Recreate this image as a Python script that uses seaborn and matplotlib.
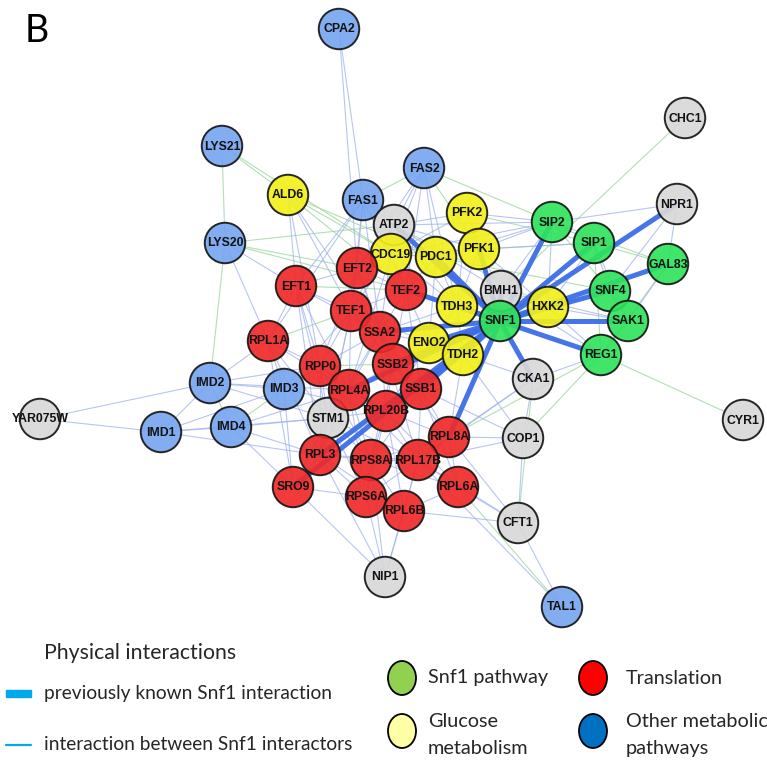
import matplotlib
matplotlib.use("Agg")
import matplotlib.pyplot as plt
from matplotlib.collections import LineCollection
from matplotlib.patches import Ellipse, Rectangle
import seaborn as sns
import pandas as pd

# ---- network data -------------------------------------------------------
node_names = [
    "CPA2", "LYS21", "LYS20", "ALD6", "FAS1", "FAS2", "CHC1", "NPR1",
    "ATP2", "CDC19", "PFK2", "PFK1", "PDC1", "SIP2", "SIP1", "GAL83",
    "EFT1", "EFT2", "TEF2", "TEF1", "SSA2", "BMH1", "TDH3", "HXK2",
    "SNF4", "SAK1", "SNF1", "REG1", "ENO2", "TDH2", "RPL1A", "RPP0",
    "STM1", "RPL4A", "SSB2", "SSB1", "RPL20B", "IMD2", "IMD3", "IMD4",
    "IMD1", "YAR075W", "CKA1", "CYR1", "COP1", "RPL8A", "RPL3", "RPS8A",
    "RPL17B", "SRO9", "RPL6A", "RPS6A", "RPL6B", "CFT1", "NIP1", "TAL1",
]
node_x = [
    339, 222, 225, 288, 363, 424, 685, 677,
    394, 391, 467, 479, 436, 552, 594, 668,
    296, 357, 406, 351, 380, 501, 457, 548,
    610, 628, 500, 601, 429, 463, 268, 320,
    328, 349, 393, 421, 386, 210, 284, 231,
    161, 40, 533, 743, 523, 449, 320, 371,
    418, 293, 458, 366, 404, 518, 385, 562,
]
node_y = [
    29, 146, 243, 195, 200, 168, 118, 204,
    225, 254, 213, 249, 257, 222, 243, 264,
    286, 268, 290, 311, 332, 291, 306, 307,
    291, 321, 321, 355, 343, 355, 341, 366,
    418, 390, 364, 389, 411, 383, 389, 427,
    432, 419, 379, 420, 438, 437, 455, 460,
    460, 487, 487, 497, 511, 523, 577, 607,
]
node_group = [
    "metabolic", "metabolic", "metabolic", "glucose", "metabolic", "metabolic", "other", "other",
    "other", "glucose", "glucose", "glucose", "glucose", "snf1", "snf1", "snf1",
    "translation", "translation", "translation", "translation", "translation", "other", "glucose", "glucose",
    "snf1", "snf1", "snf1", "snf1", "glucose", "glucose", "translation", "translation",
    "other", "translation", "translation", "translation", "translation", "metabolic", "metabolic", "metabolic",
    "metabolic", "other", "other", "other", "other", "translation", "translation", "translation",
    "translation", "translation", "translation", "translation", "translation", "other", "other", "metabolic",
]

# previously known Snf1 interactions (thick)
known_snf1 = [
    ("SNF1", "SIP2"), ("SNF1", "SIP1"), ("SNF1", "NPR1"), ("SNF1", "GAL83"),
    ("SNF1", "SNF4"), ("SNF1", "SAK1"), ("SNF1", "REG1"), ("SNF1", "HXK2"),
    ("SNF1", "BMH1"), ("SNF1", "CKA1"), ("SNF1", "RPL8A"), ("SNF1", "TDH2"),
    ("SNF1", "ENO2"), ("SNF1", "SSB1"), ("SNF1", "SSB2"), ("SNF1", "RPL3"),
    ("SNF1", "SRO9"), ("SNF1", "RPL4A"), ("SNF1", "SSA2"), ("SNF1", "TDH3"),
    ("SNF1", "PDC1"), ("SNF1", "PFK1"), ("SNF1", "ATP2"), ("SNF1", "TEF2"),
]

# interactions between Snf1 interactors (thin blue)
physical = [
    ("CPA2", "FAS1"), ("CPA2", "EFT2"),
    ("FAS1", "ATP2"), ("FAS1", "CDC19"), ("FAS1", "EFT2"), ("FAS1", "TEF1"), ("FAS1", "EFT1"),
    ("FAS1", "SSA2"), ("FAS1", "TEF2"), ("FAS1", "RPL1A"),
    ("FAS2", "ATP2"), ("FAS2", "CDC19"), ("FAS2", "PDC1"), ("FAS2", "TEF2"), ("FAS2", "TDH3"),
    ("FAS2", "EFT2"),
    ("ALD6", "EFT1"), ("ALD6", "TEF1"), ("ALD6", "SSA2"), ("ALD6", "RPP0"),
    ("LYS20", "RPL1A"), ("LYS20", "EFT1"),
    ("ATP2", "PFK2"), ("ATP2", "PFK1"), ("ATP2", "SIP2"), ("ATP2", "EFT2"), ("ATP2", "TEF1"),
    ("ATP2", "TDH3"), ("ATP2", "BMH1"),
    ("CDC19", "PDC1"), ("CDC19", "TEF2"), ("CDC19", "EFT2"), ("CDC19", "TEF1"), ("CDC19", "SSA2"),
    ("CDC19", "PFK2"), ("CDC19", "SIP2"), ("CDC19", "RPL4A"), ("CDC19", "TDH3"),
    ("PDC1", "PFK1"), ("PDC1", "TDH3"), ("PDC1", "TEF2"), ("PDC1", "ENO2"), ("PDC1", "SIP2"),
    ("PFK2", "PFK1"), ("PFK2", "SIP2"), ("PFK2", "TDH3"),
    ("PFK1", "BMH1"), ("PFK1", "HXK2"), ("PFK1", "SIP2"), ("PFK1", "SIP1"), ("PFK1", "TDH3"),
    ("NPR1", "SIP2"), ("NPR1", "GAL83"), ("NPR1", "SNF4"),
    ("SIP2", "SIP1"), ("SIP2", "HXK2"), ("SIP2", "BMH1"),
    ("SIP1", "SNF4"), ("SIP1", "SAK1"), ("SIP1", "HXK2"),
    ("GAL83", "SAK1"), ("SNF4", "SAK1"), ("SAK1", "REG1"), ("HXK2", "SAK1"), ("HXK2", "REG1"),
    ("HXK2", "SNF4"), ("BMH1", "HXK2"), ("BMH1", "TDH3"), ("BMH1", "REG1"), ("BMH1", "SAK1"),
    ("REG1", "CKA1"),
    ("CKA1", "COP1"), ("CKA1", "RPL8A"), ("CKA1", "TDH2"), ("CKA1", "RPL17B"),
    ("COP1", "RPL8A"), ("COP1", "RPL17B"), ("COP1", "CFT1"), ("COP1", "TDH2"), ("COP1", "SSB1"),
    ("CFT1", "RPL6A"), ("CFT1", "RPL6B"), ("CFT1", "RPL8A"), ("CFT1", "TAL1"), ("CFT1", "RPL17B"),
    ("TAL1", "RPL17B"),
    ("NIP1", "RPS6A"), ("NIP1", "RPL6B"), ("NIP1", "RPL3"), ("NIP1", "RPL17B"), ("NIP1", "RPS8A"),
    ("NIP1", "SRO9"),
    ("YAR075W", "IMD2"), ("YAR075W", "IMD1"),
    ("IMD1", "IMD2"), ("IMD1", "IMD4"), ("IMD1", "IMD3"), ("IMD1", "STM1"), ("IMD1", "RPL3"),
    ("IMD2", "IMD3"), ("IMD2", "RPL1A"), ("IMD2", "RPL4A"), ("IMD2", "RPP0"), ("IMD2", "STM1"),
    ("IMD4", "RPL3"), ("IMD4", "STM1"), ("IMD4", "SRO9"), ("IMD4", "RPL4A"),
    ("IMD3", "RPP0"), ("IMD3", "RPL1A"), ("IMD3", "SRO9"), ("IMD3", "RPL20B"), ("IMD3", "TEF1"),
    ("EFT1", "EFT2"), ("EFT1", "TEF1"), ("EFT1", "SSA2"), ("EFT1", "RPL1A"), ("EFT1", "RPP0"),
    ("EFT1", "RPL4A"), ("EFT1", "RPL3"), ("EFT1", "STM1"),
    ("EFT2", "TEF1"), ("EFT2", "TEF2"), ("EFT2", "SSA2"), ("EFT2", "RPP0"), ("EFT2", "SSB2"),
    ("TEF1", "TEF2"), ("TEF1", "SSA2"), ("TEF1", "RPP0"), ("TEF1", "RPL4A"), ("TEF1", "SSB2"),
    ("TEF1", "STM1"), ("TEF1", "RPL3"),
    ("TEF2", "SSA2"), ("TEF2", "SSB2"), ("TEF2", "SSB1"), ("TEF2", "TDH3"), ("TEF2", "ENO2"),
    ("SSA2", "SSB2"), ("SSA2", "SSB1"), ("SSA2", "RPP0"), ("SSA2", "RPL4A"), ("SSA2", "ENO2"),
    ("SSA2", "RPL20B"), ("SSA2", "STM1"), ("SSA2", "RPL17B"),
    ("SSB2", "SSB1"), ("SSB2", "RPL4A"), ("SSB2", "RPL20B"), ("SSB2", "ENO2"), ("SSB2", "RPL8A"),
    ("SSB2", "RPS8A"),
    ("SSB1", "RPL20B"), ("SSB1", "RPL8A"), ("SSB1", "RPL17B"), ("SSB1", "TDH2"), ("SSB1", "RPS8A"),
    ("SSB1", "RPL6A"),
    ("RPP0", "RPL4A"), ("RPP0", "RPL1A"), ("RPP0", "STM1"), ("RPP0", "RPL3"), ("RPP0", "RPL20B"),
    ("RPP0", "RPS8A"),
    ("RPL1A", "RPL4A"), ("RPL1A", "STM1"), ("RPL1A", "RPL3"), ("RPL1A", "SRO9"),
    ("RPL4A", "STM1"), ("RPL4A", "RPL20B"), ("RPL4A", "RPL3"), ("RPL4A", "RPS8A"),
    ("RPL4A", "RPL17B"), ("RPL4A", "RPS6A"),
    ("STM1", "RPL20B"), ("STM1", "RPL3"), ("STM1", "RPS8A"), ("STM1", "SRO9"), ("STM1", "RPS6A"),
    ("STM1", "RPL17B"),
    ("RPL20B", "RPS8A"), ("RPL20B", "RPL17B"), ("RPL20B", "RPL8A"), ("RPL20B", "RPL3"),
    ("RPL20B", "RPS6A"), ("RPL20B", "RPL6B"), ("RPL20B", "RPL6A"),
    ("RPL3", "RPS8A"), ("RPL3", "SRO9"), ("RPL3", "RPS6A"), ("RPL3", "RPL6B"), ("RPL3", "RPL17B"),
    ("RPS8A", "RPL17B"), ("RPS8A", "RPS6A"), ("RPS8A", "RPL6B"), ("RPS8A", "RPL6A"),
    ("RPS8A", "RPL8A"),
    ("RPL17B", "RPL8A"), ("RPL17B", "RPL6A"), ("RPL17B", "RPL6B"), ("RPL17B", "RPS6A"),
    ("RPL6B", "RPS6A"), ("RPL6B", "RPL6A"), ("RPL8A", "RPL6A"), ("SRO9", "RPS6A"),
    ("ENO2", "TDH2"), ("ENO2", "TDH3"), ("TDH3", "TDH2"), ("TDH2", "RPL8A"), ("ENO2", "RPL20B"),
    ("TDH3", "SSA2"),
]

# other (non-physical) associations (thin green)
genetic = [
    ("LYS21", "LYS20"), ("LYS21", "ALD6"), ("LYS21", "CDC19"),
    ("LYS20", "ATP2"), ("LYS20", "EFT2"), ("LYS20", "TEF2"), ("LYS20", "IMD2"),
    ("ALD6", "CDC19"), ("ALD6", "TEF2"), ("ALD6", "PDC1"),
    ("FAS1", "FAS2"), ("FAS2", "SIP2"), ("FAS2", "PFK1"),
    ("CHC1", "BMH1"), ("CYR1", "REG1"),
    ("SIP2", "GAL83"), ("SIP2", "SNF4"), ("SIP1", "GAL83"), ("SIP1", "REG1"), ("PFK2", "SIP1"),
    ("PDC1", "SNF4"), ("ATP2", "HXK2"), ("CDC19", "SIP1"),
    ("IMD2", "IMD4"), ("IMD3", "IMD4"),
    ("TAL1", "RPL6A"), ("REG1", "RPL8A"), ("REG1", "COP1"), ("CKA1", "CFT1"), ("GAL83", "REG1"),
    ("EFT1", "TEF2"), ("RPL1A", "TEF1"), ("RPP0", "SSB2"), ("TEF1", "ENO2"),
]

group_colors = {
    "snf1": "#2fe35c",
    "translation": "#f02a2a",
    "glucose": "#f2ef1c",
    "metabolic": "#78a6f0",
    "other": "#d8d8d8",
}

nodes = pd.DataFrame({"name": node_names, "x": node_x, "y": node_y, "group": node_group})
pos = {n: (x, y) for n, x, y in zip(node_names, node_x, node_y)}

sns.set_theme(style="white")
plt.rcParams["font.family"] = ["DejaVu Sans"]

fig = plt.figure(figsize=(7.67, 7.66), dpi=100)
ax = fig.add_axes([0, 0, 1, 1])
ax.set_xlim(0, 767)
ax.set_ylim(766, 0)
ax.axis("off")


def segments(pairs):
    return [[pos[a], pos[b]] for a, b in pairs]


ax.add_collection(LineCollection(segments(genetic), colors="#9ed89e", linewidths=0.8,
                                 alpha=0.8, zorder=1))
ax.add_collection(LineCollection(segments(physical), colors="#9fb2ef", linewidths=0.8,
                                 alpha=0.75, zorder=1))
ax.add_collection(LineCollection(segments(known_snf1), colors="#3c6ee8", linewidths=3.6,
                                 alpha=0.95, zorder=2, capstyle="round"))

sns.scatterplot(data=nodes, x="x", y="y", hue="group", palette=group_colors,
                s=850, edgecolor="#151515", linewidth=1.4, alpha=0.92,
                legend=False, ax=ax, zorder=3)

for n, x, y in zip(node_names, node_x, node_y):
    ax.text(x, y + 0.5, n, ha="center", va="center", fontsize=8.8, fontweight="bold",
            family="Liberation Sans", color="#111111", zorder=4)

# panel letter
ax.text(25, 31, "B", fontsize=27, family="Lato", ha="left", va="center", color="black")

# ---- legends ------------------------------------------------------------
leg_font = "Lato"
ax.text(44, 653, "Physical interactions", fontsize=15.3, family=leg_font, va="center")
ax.add_patch(Rectangle((6, 690), 25, 7, color="#00a8ee", zorder=3))
ax.text(44, 693, "previously known Snf1 interaction", fontsize=13.8, family=leg_font, va="center")
ax.plot([6, 31], [745, 745], color="#00a8ee", lw=1.6)
ax.text(44, 745, "interaction between Snf1 interactors", fontsize=13.8, family=leg_font,
        va="center")

legend_items = [
    (402, 678, "#92d050", "Snf1 pathway", 428, 678),
    (593, 678, "#ff0000", "Translation", 626, 678),
    (402, 731, "#ffffa6", "Glucose\nmetabolism", 428, 735),
    (593, 731, "#0070c0", "Other metabolic\npathways", 626, 735),
]
for cx, cy, col, label, tx, ty in legend_items:
    ax.add_patch(Ellipse((cx, cy), 28, 34, facecolor=col, edgecolor="black", lw=1.3))
    ax.text(tx, ty, label, fontsize=14.3, family=leg_font, va="center", linespacing=1.75)

fig.savefig("out.png", dpi=100)
